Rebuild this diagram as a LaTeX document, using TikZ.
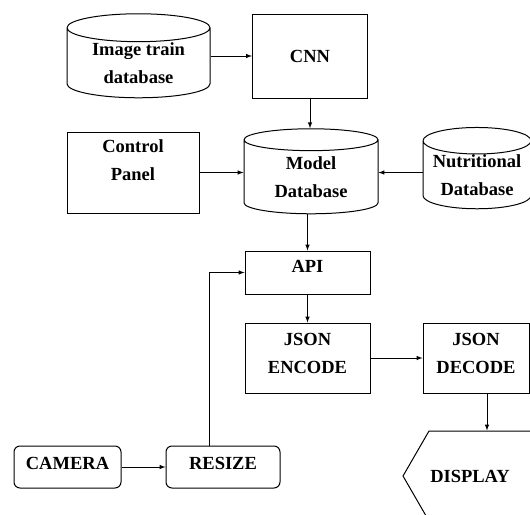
\documentclass[tikz,border=0pt]{standalone}
\usepackage{fontspec}
\setmainfont{Liberation Serif}
\usepackage{tikz}
\usetikzlibrary{shapes, arrows, positioning, calc}

\begin{document}
\begin{tikzpicture}[x=1pt, y=-1pt, line width=1pt,
    every node/.style={font=\fontsize{18.5pt}{28pt}\selectfont\bfseries, align=center, inner sep=0pt},
    blk/.style={draw, rectangle},
    rblk/.style={draw, rectangle, rounded corners=6pt, text depth=8pt},
    db/.style={draw, cylinder, shape border rotate=90, aspect=0.3}]
      \useasboundingbox (0,0) rectangle (530,514);

      \node[db, minimum width=143pt, minimum height=84pt] (train) at (138.5,63) {Image train\\database};
      \node[blk, minimum width=115pt, minimum height=84pt] (cnn) at (310,56) {CNN};

      \node[blk, minimum width=132pt, minimum height=81pt, text depth=24pt] (ctrl) at (133,172.5) {Control\\Panel};
      \node[db, minimum width=134pt, minimum height=85pt] (model) at (311,177) {Model\\Database};
      \node[db, minimum width=108pt, minimum height=80pt] (nutri) at (477,175) {Nutritional\\Database};

      \node[blk, minimum width=125pt, minimum height=43pt, text depth=12pt] (api) at (307.5,272.5) {API};
      \node[blk, minimum width=125pt, minimum height=70pt, text depth=10pt] (enc) at (307.5,358) {JSON\\ENCODE};
      \node[blk, minimum width=106pt, minimum height=70pt, text depth=10pt] (dec) at (476,358) {JSON\\DECODE};
      \node[draw, signal, signal to=west, signal from=nowhere, signal pointer angle=120,
            minimum width=142pt, minimum height=90pt] (disp) at (487,476) {DISPLAY\hspace*{34pt}};

      \node[rblk, minimum width=107pt, minimum height=42pt] (cam) at (67.5,467) {CAMERA};
      \node[rblk, minimum width=114pt, minimum height=42pt] (resize) at (223,467) {RESIZE};

      \draw[-latex] (train.east |- cnn.west) -- (cnn.west);
      \draw[-latex] (cnn.south) -- (cnn.south |- model.north);
      \draw[-latex] (ctrl.east) -- (ctrl.east -| model.west);
      \draw[-latex] (nutri.west |- ctrl.east) -- (model.east |- ctrl.east);
      \draw[-latex] (api.north |- model.south) -- (api.north);
      \draw[-latex] (api) -- (enc);
      \draw[-latex] (enc) -- (dec);
      \draw[-latex] (disp.north |- dec.south) -- (disp.north);
      \draw[-latex] (cam) -- (resize);
      \draw[-latex] ([xshift=-14pt]resize.north) |- (api.west);

    \end{tikzpicture}
\end{document}
